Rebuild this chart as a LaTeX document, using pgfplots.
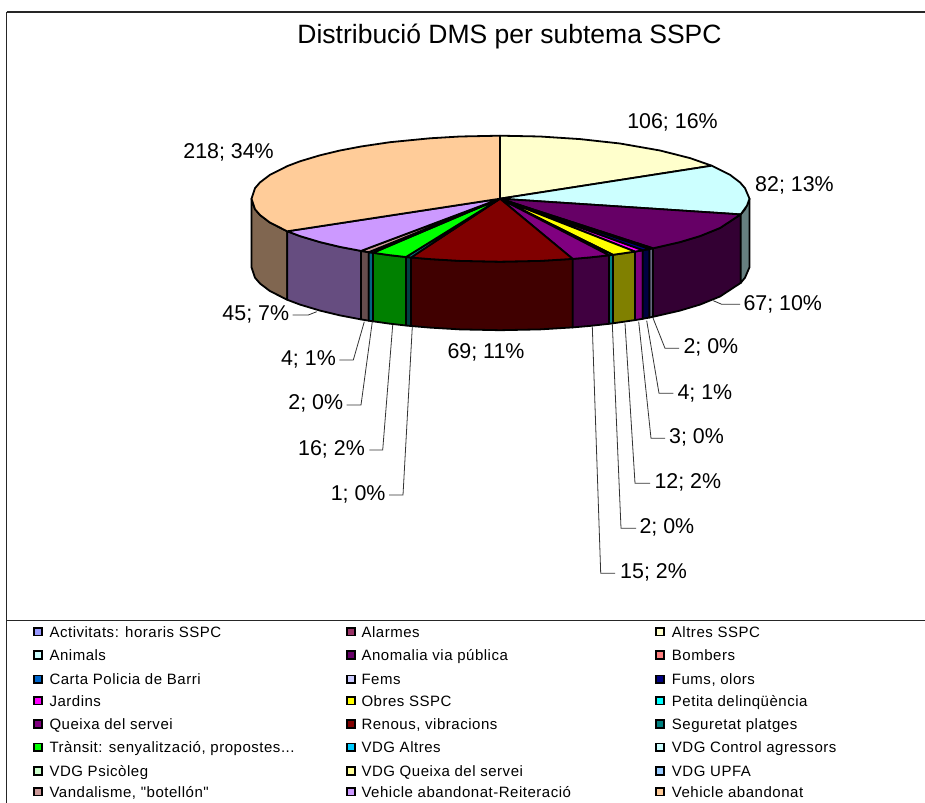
\documentclass[border=0pt]{standalone}
\usepackage{pgfplots}
\pgfplotsset{compat=1.18}
\usepackage{fontspec}
\setmainfont{Liberation Sans}
\newfontfamily\lgfont[LetterSpace=3.5]{Liberation Sans}
\definecolor{cVA}{HTML}{FFCC99}\definecolor{sVA}{HTML}{806650}
\definecolor{cRE}{HTML}{CC99FF}\definecolor{sRE}{HTML}{664D80}
\definecolor{cVN}{HTML}{CC9999}\definecolor{sVN}{HTML}{664D4D}
\definecolor{cAL}{HTML}{00CCFF}\definecolor{sAL}{HTML}{006680}
\definecolor{cTR}{HTML}{00FF00}\definecolor{sTR}{HTML}{008000}
\definecolor{cSE}{HTML}{008080}\definecolor{sSE}{HTML}{004040}
\definecolor{cRN}{HTML}{800000}\definecolor{sRN}{HTML}{400000}
\definecolor{cQX}{HTML}{800080}\definecolor{sQX}{HTML}{400040}
\definecolor{cPE}{HTML}{00FFFF}\definecolor{sPE}{HTML}{008080}
\definecolor{cOB}{HTML}{FFFF00}\definecolor{sOB}{HTML}{808000}
\definecolor{cJA}{HTML}{FF00FF}\definecolor{sJA}{HTML}{800080}
\definecolor{cFU}{HTML}{000080}\definecolor{sFU}{HTML}{000040}
\definecolor{cFE}{HTML}{CCCCFF}\definecolor{sFE}{HTML}{666680}
\definecolor{cAN}{HTML}{660066}\definecolor{sAN}{HTML}{330033}
\definecolor{cAI}{HTML}{CCFFFF}\definecolor{sAI}{HTML}{668080}
\definecolor{cAS}{HTML}{FFFFCC}
\definecolor{lAC}{HTML}{9999FF}\definecolor{lAR}{HTML}{993366}
\definecolor{lBO}{HTML}{FF8080}\definecolor{lCA}{HTML}{0066CC}
\definecolor{lPS}{HTML}{CCFFCC}\definecolor{lQU}{HTML}{FFFF99}
\definecolor{lUP}{HTML}{99CCFF}
\newcommand{\dl}{\fontsize{21.4bp}{25bp}\selectfont}
\newcommand{\lgd}{\lgfont\fontsize{15bp}{17bp}\selectfont}
\pgfplotsset{
  sl/.style={draw=black,line width=1.8bp,line join=round,fill=#1},
  ld/.style={draw=black!80,line width=0.8bp},
  sw/.style={only marks,mark=square*,mark size=3.8bp,mark options={draw=black,line width=1.5bp,fill=#1}}
}
\begin{document}
\begin{tikzpicture}
\begin{axis}[scale only axis,width=925bp,height=803bp,xmin=0,xmax=925,ymin=0,ymax=803,y dir=reverse,
  hide axis,clip=true]
\draw[draw=none] (axis cs:0,0) rectangle (axis cs:925,803);
% frame
\addplot[draw=black!85,line width=1.3bp] coordinates {(6.5,12)(925,12)};
\addplot[draw=black!85,line width=1.3bp] coordinates {(6.5,12)(6.5,803)};
\addplot[draw=black!85,line width=1.3bp] coordinates {(6.5,620.5)(925,620.5)};
% sides
\addplot[sl=sVA] coordinates {(251.5,198.7)(255,209.2)(260,215)(270,222.6)(287.3,231.3)(287.3,299.8)(270,291.1)(260,283.5)(255,277.7)(251.5,267.2)} --cycle;
\addplot[sl=sRE] coordinates {(287.3,231.3)(300,236.1)(320,242.1)(340,246.9)(361,250.9)(361,319.4)(340,315.4)(320,310.6)(300,304.6)(287.3,299.8)} --cycle;
\addplot[sl=sVN] coordinates {(361,250.9)(368.7,252.2)(368.7,320.7)(361,319.4)} --cycle;
\addplot[sl=sAL] coordinates {(368.7,252.2)(373,252.8)(373,321.3)(368.7,320.7)} --cycle;
\addplot[sl=sTR] coordinates {(373,252.8)(390,255.2)(406,257)(406,325.5)(390,323.7)(373,321.3)} --cycle;
\addplot[sl=sSE] coordinates {(406,257)(411,257.5)(411,326)(406,325.5)} --cycle;
\addplot[sl=sRN] coordinates {(411,257.5)(430,259.1)(460,260.9)(500,261.7)(540,260.9)(572.7,258.9)(572.7,327.4)(540,329.4)(500,330.2)(460,329.4)(430,327.6)(411,326)} --cycle;
\addplot[sl=sQX] coordinates {(572.7,258.9)(590,257.4)(609,255.3)(609,323.8)(590,325.9)(572.7,327.4)} --cycle;
\addplot[sl=sPE] coordinates {(609,255.3)(613,254.8)(613,323.3)(609,323.8)} --cycle;
\addplot[sl=sOB] coordinates {(613,254.8)(635,251.6)(635,320.1)(613,323.3)} --cycle;
\addplot[sl=sJA] coordinates {(635,251.6)(642.7,250.3)(642.7,318.8)(635,320.1)} --cycle;
\addplot[sl=sFU] coordinates {(642.7,250.3)(649.5,249)(649.5,317.5)(642.7,318.8)} --cycle;
\addplot[sl=sFE] coordinates {(649.5,249)(653,248.3)(653,316.8)(649.5,317.5)} --cycle;
\addplot[sl=sAN] coordinates {(653,248.3)(680,242.1)(700,236.1)(720,228)(740.7,214.4)(740.7,282.9)(720,296.5)(700,304.6)(680,310.6)(653,316.8)} --cycle;
\addplot[sl=sAI] coordinates {(740.7,214.4)(745,209.2)(749.5,198.7)(749.5,267.2)(745,277.7)(740.7,282.9)} --cycle;
% tops
\addplot[sl=cAS] coordinates {(500,198.7)(500,135.7)(540,136.5)(580,139.1)(620,143.5)(660,150.5)(690,158.1)(711.7,165.7)} --cycle;
\addplot[sl=cAI] coordinates {(500,198.7)(711.7,165.7)(730,174.8)(740,182.4)(745,188.2)(749.5,198.7)(747,205.6)(740.7,214.4)} --cycle;
\addplot[sl=cAN] coordinates {(500,198.7)(740.7,214.4)(720,228)(700,236.1)(680,242.1)(653,248.3)} --cycle;
\addplot[sl=cFE] coordinates {(500,198.7)(653,248.3)(649.5,249)} --cycle;
\addplot[sl=cFU] coordinates {(500,198.7)(649.5,249)(642.7,250.3)} --cycle;
\addplot[sl=cJA] coordinates {(500,198.7)(642.7,250.3)(635,251.6)} --cycle;
\addplot[sl=cOB] coordinates {(500,198.7)(635,251.6)(613,254.8)} --cycle;
\addplot[sl=cPE] coordinates {(500,198.7)(613,254.8)(609,255.3)} --cycle;
\addplot[sl=cQX] coordinates {(500,198.7)(609,255.3)(590,257.4)(572.7,258.9)} --cycle;
\addplot[sl=cRN] coordinates {(500,198.7)(572.7,258.9)(540,260.9)(500,261.7)(460,260.9)(430,259.1)(411,257.5)} --cycle;
\addplot[sl=cSE] coordinates {(500,198.7)(411,257.5)(406,257)} --cycle;
\addplot[sl=cTR] coordinates {(500,198.7)(406,257)(390,255.2)(373,252.8)} --cycle;
\addplot[sl=cAL] coordinates {(500,198.7)(373,252.8)(368.7,252.2)} --cycle;
\addplot[sl=cVN] coordinates {(500,198.7)(368.7,252.2)(361,250.9)} --cycle;
\addplot[sl=cRE] coordinates {(500,198.7)(361,250.9)(340,246.9)(320,242.1)(300,236.1)(287.3,231.3)} --cycle;
\addplot[sl=cVA] coordinates {(500,198.7)(287.3,231.3)(270,222.6)(260,215)(255,209.2)(251.5,198.7)(255,188.2)(260,182.4)(270,174.8)(287.3,166.1)(300,161.3)(320,155.3)(340,150.5)(361,146.5)(390,142.2)(430,138.3)(460,136.5)(500,135.7)} --cycle;
% leaders
\addplot[ld] coordinates {(316.7,311.7)(308.3,315)(292.7,315)};
\addplot[ld] coordinates {(364.3,321.7)(353.3,360)(339.3,360)};
\addplot[ld] coordinates {(372.3,321.7)(361,405)(346.7,405)};
\addplot[ld] coordinates {(392.7,325)(382.7,450)(369.3,450)};
\addplot[ld] coordinates {(412.3,326.7)(403,495)(389,495)};
\addplot[ld] coordinates {(713.3,300.7)(721.7,304.3)(740,304.3)};
\addplot[ld] coordinates {(652.7,317.3)(665,348.3)(679,348.3)};
\addplot[ld] coordinates {(646.7,320.7)(659,393.3)(673.3,393.3)};
\addplot[ld] coordinates {(638.7,321.7)(651,438.3)(665,438.3)};
\addplot[ld] coordinates {(625,323.3)(635,483.3)(650,483.3)};
\addplot[ld] coordinates {(612.3,324)(621,528.3)(636,528.3)};
\addplot[ld] coordinates {(592.3,326.7)(600.7,573.3)(615,573.3)};
% legend swatches
\addplot[sw=lAC] coordinates {(38,631.7)};
\addplot[sw=cAI] coordinates {(38,655)};
\addplot[sw=lCA] coordinates {(38,679.3)};
\addplot[sw=cJA] coordinates {(38,700.7)};
\addplot[sw=cQX] coordinates {(38,724)};
\addplot[sw=cTR] coordinates {(38,747.3)};
\addplot[sw=lPS] coordinates {(38,771)};
\addplot[sw=cVN] coordinates {(38,791.7)};
\addplot[sw=lAR] coordinates {(351,631.7)};
\addplot[sw=cAN] coordinates {(351,655)};
\addplot[sw=cFE] coordinates {(351,679.3)};
\addplot[sw=cOB] coordinates {(351,700.7)};
\addplot[sw=cRN] coordinates {(351,724)};
\addplot[sw=cAL] coordinates {(351,747.3)};
\addplot[sw=lQU] coordinates {(351,771)};
\addplot[sw=cRE] coordinates {(351,791.7)};
\addplot[sw=cAS] coordinates {(660,631.7)};
\addplot[sw=lBO] coordinates {(660,655)};
\addplot[sw=cFU] coordinates {(660,679.3)};
\addplot[sw=cPE] coordinates {(660,700.7)};
\addplot[sw=cSE] coordinates {(660,724)};
\addplot[sw=cAI] coordinates {(660,747.3)};
\addplot[sw=lUP] coordinates {(660,771)};
\addplot[sw=cVA] coordinates {(660,791.7)};
% texts
\node[anchor=center,inner sep=0pt] at (axis cs:509.5,36) {\fontsize{26.5bp}{30bp}\selectfont Distribució DMS per subtema SSPC};
\node[anchor=center,inner sep=0pt] at (axis cs:672.5,122.3) {\dl 106; 16\%};
\node[anchor=west,inner sep=0pt] at (axis cs:755,185) {\dl 82; 13\%};
\node[anchor=west,inner sep=0pt] at (axis cs:743.3,304) {\dl 67; 10\%};
\node[anchor=west,inner sep=0pt] at (axis cs:683.3,347.7) {\dl 2; 0\%};
\node[anchor=west,inner sep=0pt] at (axis cs:677.3,393) {\dl 4; 1\%};
\node[anchor=west,inner sep=0pt] at (axis cs:669,437) {\dl 3; 0\%};
\node[anchor=west,inner sep=0pt] at (axis cs:654.3,482) {\dl 12; 2\%};
\node[anchor=west,inner sep=0pt] at (axis cs:639.3,527.5) {\dl 2; 0\%};
\node[anchor=west,inner sep=0pt] at (axis cs:620,572) {\dl 15; 2\%};
\node[anchor=east,inner sep=0pt] at (axis cs:274,152.7) {\dl 218; 34\%};
\node[anchor=east,inner sep=0pt] at (axis cs:289.3,314) {\dl 45; 7\%};
\node[anchor=east,inner sep=0pt] at (axis cs:336,359.3) {\dl 4; 1\%};
\node[anchor=east,inner sep=0pt] at (axis cs:343.3,403.5) {\dl 2; 0\%};
\node[anchor=east,inner sep=0pt] at (axis cs:365,449) {\dl 16; 2\%};
\node[anchor=east,inner sep=0pt] at (axis cs:385.7,494) {\dl 1; 0\%};
\node[anchor=center,inner sep=0pt] at (axis cs:486,352) {\dl 69; 11\%};
% legend text
\node[anchor=base west,inner sep=0pt] at (axis cs:49.3,637) {\lgd Activitats: horaris SSPC};
\node[anchor=base west,inner sep=0pt] at (axis cs:49.3,660.3) {\lgd Animals};
\node[anchor=base west,inner sep=0pt] at (axis cs:49.3,684.6) {\lgd Carta Policia de Barri};
\node[anchor=base west,inner sep=0pt] at (axis cs:49.3,706) {\lgd Jardins};
\node[anchor=base west,inner sep=0pt] at (axis cs:49.3,729.3) {\lgd Queixa del servei};
\node[anchor=base west,inner sep=0pt] at (axis cs:49.3,752.6) {\lgd Trànsit: senyalització, propostes...};
\node[anchor=base west,inner sep=0pt] at (axis cs:49.3,776.3) {\lgd VDG Psicòleg};
\node[anchor=base west,inner sep=0pt] at (axis cs:49.3,797) {\lgd Vandalisme, "botellón"};
\node[anchor=base west,inner sep=0pt] at (axis cs:361.3,637) {\lgd Alarmes};
\node[anchor=base west,inner sep=0pt] at (axis cs:361.3,660.3) {\lgd Anomalia via pública};
\node[anchor=base west,inner sep=0pt] at (axis cs:361.3,684.6) {\lgd Fems};
\node[anchor=base west,inner sep=0pt] at (axis cs:361.3,706) {\lgd Obres SSPC};
\node[anchor=base west,inner sep=0pt] at (axis cs:361.3,729.3) {\lgd Renous, vibracions};
\node[anchor=base west,inner sep=0pt] at (axis cs:361.3,752.6) {\lgd VDG Altres};
\node[anchor=base west,inner sep=0pt] at (axis cs:361.3,776.3) {\lgd VDG Queixa del servei};
\node[anchor=base west,inner sep=0pt] at (axis cs:361.3,797) {\lgd Vehicle abandonat-Reiteració};
\node[anchor=base west,inner sep=0pt] at (axis cs:671.7,637) {\lgd Altres SSPC};
\node[anchor=base west,inner sep=0pt] at (axis cs:671.7,660.3) {\lgd Bombers};
\node[anchor=base west,inner sep=0pt] at (axis cs:671.7,684.6) {\lgd Fums, olors};
\node[anchor=base west,inner sep=0pt] at (axis cs:671.7,706) {\lgd Petita delinqüència};
\node[anchor=base west,inner sep=0pt] at (axis cs:671.7,729.3) {\lgd Seguretat platges};
\node[anchor=base west,inner sep=0pt] at (axis cs:671.7,752.6) {\lgd VDG Control agressors};
\node[anchor=base west,inner sep=0pt] at (axis cs:671.7,776.3) {\lgd VDG UPFA};
\node[anchor=base west,inner sep=0pt] at (axis cs:671.7,797) {\lgd Vehicle abandonat};
\end{axis}
\end{tikzpicture}
\end{document}
